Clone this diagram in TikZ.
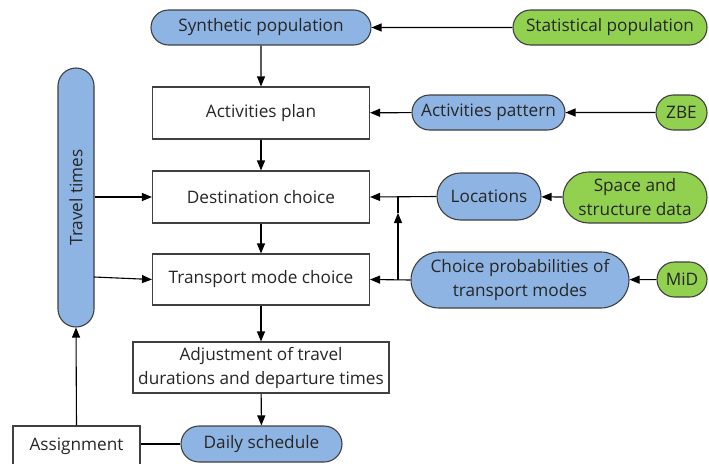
\documentclass[tikz,border=0pt]{standalone}
\usepackage{fontspec}
\setmainfont{Open Sans}
\usetikzlibrary{shapes.misc,arrows.meta}
\definecolor{bluef}{HTML}{8EB4E3}
\definecolor{greenf}{HTML}{92D050}
\definecolor{edge}{HTML}{404040}
\begin{document}
\begin{tikzpicture}[x=1pt,y=-1pt,
  every node/.style={font=\fontsize{17.2}{24}\selectfont, inner sep=1pt, align=center, text=black!85},
  pill/.style={rounded rectangle, draw=edge, line width=1.1pt},
  bpill/.style={pill, fill=bluef},
  gpill/.style={pill, fill=greenf},
  box/.style={rectangle, draw=edge, line width=1.1pt, fill=white},
  arr/.style={draw=black, line width=1.1pt, -{Triangle[length=10pt,width=8pt]}},
  ln/.style={draw=black, line width=1.1pt}]
\useasboundingbox (0,0) rectangle (709,463);
% nodes
\node[bpill, minimum width=222pt, minimum height=35pt] (syn) at (261,27.5) {Synthetic population};
\node[gpill, minimum width=196pt, minimum height=35pt] (stat) at (610,27.5) {Statistical population};
\node[box, minimum width=217pt, minimum height=52pt] (plan) at (261,113) {Activities plan};
\node[bpill, minimum width=155pt, minimum height=35pt] (pat) at (488.5,112.5) {Activities pattern};
\node[gpill, minimum width=53pt, minimum height=35pt] (zbe) at (681.5,112.5) {ZBE};
\node[box, minimum width=217pt, minimum height=52pt] (dest) at (261,197) {Destination choice};
\node[bpill, minimum width=106pt, minimum height=47pt] (loc) at (489,196.5) {Locations};
\node[gpill, minimum width=146pt, minimum height=51pt] (space) at (635,197.5) {Space and\\structure data};
\node[box, minimum width=217pt, minimum height=51pt] (tmc) at (261,279.5) {Transport mode choice};
\node[bpill, minimum width=220pt, minimum height=56pt] (cp) at (520,280) {Choice probabilities of\\transport modes};
\node[gpill, minimum width=52pt, minimum height=35pt] (mid) at (682,279.5) {MiD};
\node[box, minimum width=256pt, minimum height=51pt] (adj) at (261,367.5) {Adjustment of travel\\durations and departure times};
\node[bpill, minimum width=163pt, minimum height=36pt] (daily) at (261.5,444) {Daily schedule};
\node[box, minimum width=127pt, minimum height=40pt] (asg) at (76.5,446) {Assignment};
\node[rectangle, rounded corners=18pt, draw=edge, line width=1.1pt, fill=bluef, minimum width=36pt, minimum height=259pt] (tt) at (76,197.5) {\rotatebox{90}{Travel times}};
% connectors
\draw[arr] (stat) -- (syn);
\draw[arr] (syn) -- (plan);
\draw[arr] (plan) -- (dest);
\draw[arr] (dest) -- (tmc);
\draw[arr] (tmc) -- (adj);
\draw[arr] (adj) -- (daily);
\draw[arr] (zbe) -- (pat);
\draw[arr] (pat) -- (plan);
\draw[arr] (space) -- (loc);
\draw[arr] (loc.west) -- (dest.east);
\draw[arr] (mid) -- (cp);
\draw[arr] (cp.west) -- (tmc.east);
\coordinate (j) at (398,196.5);
\coordinate (jm) at (398,213);
\draw[arr] (j |- cp.west) -- (jm);
\draw[ln] (jm) -- (j);
\draw[arr] (tt.east |- dest.west) -- (dest.west);
\coordinate (t2) at (94,277);
\draw[arr] (t2) -- (tmc.west);
\draw[ln] (daily.west) -- (asg.east |- daily.west);
\draw[arr] (asg.north) -- (tt.south);
\end{tikzpicture}
\end{document}
